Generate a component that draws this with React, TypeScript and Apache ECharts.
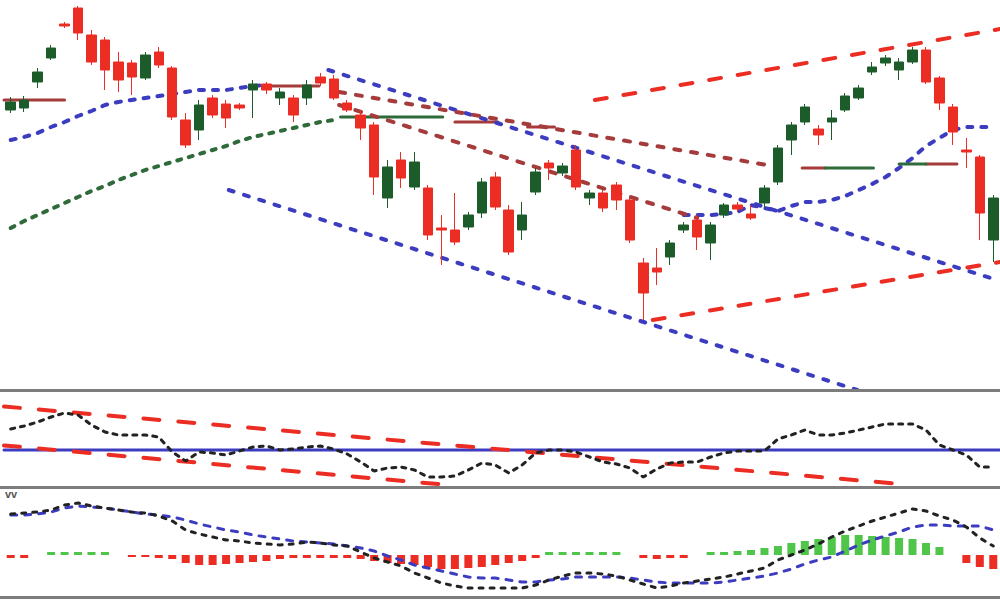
import React, { useEffect, useRef } from "react";
import * as echarts from "echarts";

// ---------- data (index-point units) ----------
const categories = Array.from({ length: 74 }, (_, i) => "D" + (i + 1));

const opens = [
  280, 282, 308, 332, 366, 382, 355, 350, 328, 327,
  312, 338, 322, 270, 260, 292, 286, 285, 300, 306,
  292, 292, 292, 313, 311, 287, 275, 265, 192, 230,
  203, 202, 162, 160, 163, 177, 213, 180, 160, 198,
  227, 217, 240, 192, 197, 205, 190, 127, 122, 133,
  160, 170, 147, 175, 185, 176, 187, 208, 250, 268,
  261, 268, 280, 292, 318, 327, 320, 328, 340, 312,
  283, 240, 233, 150,
];
const closes = [
  288, 290, 318, 342, 364, 357, 328, 320, 310, 313,
  335, 325, 273, 245, 285, 275, 272, 282, 306, 300,
  298, 275, 305, 307, 292, 280, 262, 213, 223, 212,
  228, 155, 160, 148, 175, 208, 183, 138, 175, 218,
  222, 224, 203, 197, 182, 190, 150, 97, 118, 147,
  165, 153, 165, 185, 181, 172, 202, 242, 265, 283,
  255, 272, 294, 302, 323, 332, 328, 340, 308, 287,
  258, 238, 177, 192,
];
const lows = [
  277, 278, 302, 330, 362, 350, 325, 300, 298, 295,
  310, 322, 270, 242, 250, 272, 262, 280, 272, 296,
  285, 268, 285, 304, 290, 278, 250, 195, 182, 202,
  200, 150, 125, 145, 160, 172, 180, 135, 150, 195,
  210, 214, 200, 185, 178, 180, 147, 70, 105, 125,
  157, 140, 130, 172, 178, 170, 182, 205, 235, 265,
  245, 250, 278, 290, 315, 324, 310, 326, 306, 280,
  245, 222, 150, 128,
];
const highs = [
  293, 294, 322, 345, 368, 384, 360, 353, 338, 330,
  338, 343, 324, 277, 290, 295, 290, 287, 310, 308,
  302, 295, 310, 317, 315, 290, 280, 268, 230, 238,
  238, 205, 175, 197, 178, 212, 218, 185, 188, 222,
  230, 227, 245, 200, 200, 208, 193, 132, 142, 150,
  168, 175, 168, 187, 188, 185, 205, 245, 268, 286,
  265, 280, 297, 305, 328, 335, 332, 343, 343, 314,
  286, 252, 235, 195,
];

const N = null;
const blueMA = [
  250, 253, 257, 263, 268, 274, 279, 285, 288, 290,
  292, 294, 296, 298, 300, 300, 300, 302, 304, 305,
  N, N, N, N, N, N, N, N, N, N,
  N, N, N, N, N, N, N, N, N, N,
  N, N, N, N, N, N, N, N, N, N,
  175, 175, 175, 176, 178, 185, 182, 179, 184, 188,
  188, 190, 194, 200, 206, 213, 222, 232, 244, 252,
  260, 263, 263, 263,
];
const greenMA = [
  162, 169, 175, 181, 187, 193, 199, 204, 210, 215,
  220, 224, 228, 232, 236, 240, 244, 249, 253, 256,
  259, 262, 265, 268, 270,
];

// flat segments [fromIndex, toIndex, level]
const flatRed = [
  [-0.5, 4, 290], [18.8, 22.9, 304], [33, 36.2, 268], [38.4, 40.4, 263],
  [58.8, 60.5, 222], [68, 70.3, 226],
];
const flatGreen = [[24.5, 32.1, 273], [60.5, 64.1, 222], [66, 68, 226]];

// trend lines [x0, y0, x1, y1]
const blueTrends = [[23.6, 320, 73.5, 109], [16.2, 200, 62.9, 0]];
const redChannel = [[43.4, 290, 73.5, 361], [47.7, 70, 73.5, 128]];
const brownTrends = [[24.4, 298, 56.2, 225], [24.4, 285, 51, 172]];

// oscillator panel
const oscLine = [
  58, 61, 65, 70, 74, 72, 62, 55, 52, 52,
  52, 50, 35, 26, 35, 34, 32, 36, 40, 41,
  37, 38, 40, 41, 38, 33, 25, 16, 19, 20,
  17, 10, 10, 11, 17, 24, 22, 14, 22, 34,
  37, 37, 35, 30, 25, 23, 19, 10, 18, 24,
  25, 25, 30, 34, 36, 36, 36, 48, 52, 57,
  52, 52, 54, 57, 60, 63, 63, 63, 57, 42,
  37, 32, 20, 20,
];
const oscMid = 37;
const oscTrends = [[-0.5, 80.5, 66.6, 2.5], [-0.5, 41.6, 32.1, 2.5]];

// MACD panel
const macdLine = [
  41, 42, 43, 45, 50, 52, 49, 47, 45, 43,
  42, 39, 34, 25, 21, 18, 15, 14, 12, 11,
  10, 11, 13, 12, 10, 9, 3, -3, -7, -11,
  -18, -23, -28, -31, -33, -33, -33, -33, -33, -30,
  -25, -21, -18, -18, -19, -21, -25, -29, -33, -31,
  -28, -26, -24, -22, -19, -16, -13, -5, 0, 5,
  11, 18, 24, 29, 34, 38, 42, 46, 44, 39,
  35, 28, 17, 9,
];
const signalLine = [
  40, 40, 41, 43, 47, 49, 48, 47, 45, 43,
  41, 40, 38, 35, 31, 28, 25, 23, 20, 18,
  16, 14, 13, 12, 11, 9, 7, 4, -1, -5,
  -10, -13, -16, -19, -22, -23, -23, -25, -27, -27,
  -25, -24, -22, -22, -22, -22, -23, -25, -27, -28,
  -28, -28, -28, -27, -25, -23, -21, -18, -14, -9,
  -5, -2, 4, 10, 15, 19, 23, 28, 30, 30,
  29, 29, 29, 25,
];
const histogram = [
  -3, -3, 0, 3, 3, 3, 3, 3, 0, -2,
  -2, -3, -4, -8, -10, -10, -9, -8, -7, -6,
  -4, -3, -3, -3, -3, -3, -4, -6, -8, -9,
  -10, -12, -14, -14, -13, -12, -10, -8, -6, -3,
  3, 3, 3, 3, 3, 3, 0, -3, -4, -3,
  -3, 0, 3, 3, 4, 5, 7, 9, 12, 14,
  16, 18, 20, 20, 19, 18, 17, 16, 12, 8,
  0, -8, -12, -14,
];

// ---------- styling ----------
const RED = "#ec2d24";
const GREEN = "#1c5c2b";
const BLUE = "#3c3cc0";
const BROWN = "#a53b3b";
const DKGREEN = "#2f6b3a";

function segSeries(segs: number[][], color: string, dash: any, width: number, xi: number, yi: number) {
  return segs.map((s) => ({
    type: "line",
    xAxisIndex: xi,
    yAxisIndex: yi,
    data: s.length === 3 ? [[s[0], s[2]], [s[1], s[2]]] : [[s[0], s[1]], [s[2], s[3]]],
    showSymbol: false,
    silent: true,
    z: 2,
    lineStyle: { color, width, type: dash, cap: "round" },
  }));
}

export default function App() {
  const ref = useRef<HTMLDivElement>(null);
  useEffect(() => {
    document.body.style.margin = "0";
    const chart = echarts.init(ref.current!, null, { renderer: "svg" });
    const candleData = opens.map((o, i) => [o, closes[i], lows[i], highs[i]]);
    const option: any = {
      animation: false,
      backgroundColor: "#ffffff",
      grid: [
        { left: 4, top: 0, width: 999, height: 390 },
        { left: 4, top: 392, width: 999, height: 95 },
        { left: 4, top: 490, width: 999, height: 107 },
      ],
      xAxis: [
        { type: "category", gridIndex: 0, data: categories, show: false },
        { type: "value", gridIndex: 0, min: -0.5, max: 73.5, show: false },
        { type: "category", gridIndex: 1, data: categories, show: false },
        { type: "value", gridIndex: 1, min: -0.5, max: 73.5, show: false },
        { type: "category", gridIndex: 2, data: categories, show: false },
      ],
      yAxis: [
        { type: "value", gridIndex: 0, min: 0, max: 390, show: false },
        { type: "value", gridIndex: 1, min: 0, max: 95, show: false },
        { type: "value", gridIndex: 2, min: -42, max: 65, show: false },
      ],
      graphic: [
        { type: "rect", shape: { x: 0, y: 389, width: 1000, height: 3 }, style: { fill: "#7d7d7d" }, z: 10 },
        { type: "rect", shape: { x: 0, y: 486, width: 1000, height: 3 }, style: { fill: "#7d7d7d" }, z: 10 },
        { type: "rect", shape: { x: 0, y: 596, width: 1000, height: 3 }, style: { fill: "#7d7d7d" }, z: 10 },
        { type: "text", left: 5, top: 488, style: { text: "vv", fill: "#555", font: "bold 11px sans-serif" }, z: 10 },
      ],
      series: [
        // main panel
        {
          type: "line", xAxisIndex: 0, yAxisIndex: 0, data: greenMA, showSymbol: false, z: 2,
          lineStyle: { color: DKGREEN, width: 4, type: [4, 8], cap: "round" },
        },
        {
          type: "line", xAxisIndex: 0, yAxisIndex: 0, data: blueMA, showSymbol: false, z: 2,
          lineStyle: { color: BLUE, width: 4, type: [5, 9], cap: "round" },
        },
        ...segSeries(flatRed, BROWN, "solid", 3, 1, 0),
        ...segSeries(flatGreen, DKGREEN, "solid", 3, 1, 0),
        ...segSeries(blueTrends, BLUE, [5, 11], 4, 1, 0),
        ...segSeries(redChannel, RED, [12, 17], 4, 1, 0),
        ...segSeries(brownTrends, BROWN, [6, 11], 4, 1, 0),
        {
          type: "candlestick", xAxisIndex: 0, yAxisIndex: 0, data: candleData, barWidth: 10, z: 3,
          itemStyle: { color: GREEN, color0: RED, borderColor: GREEN, borderColor0: RED, borderWidth: 1 },
        },
        // oscillator panel
        ...segSeries([[-0.5, oscMid, 73.5, oscMid]], BLUE, "solid", 3, 3, 1),
        ...segSeries(oscTrends, RED, [16, 19], 4, 3, 1),
        {
          type: "line", xAxisIndex: 2, yAxisIndex: 1, data: oscLine, showSymbol: false, z: 3,
          lineStyle: { color: "#222", width: 3, type: [4, 6], cap: "round" },
        },
        // MACD panel
        {
          type: "bar", xAxisIndex: 4, yAxisIndex: 2, barWidth: 8, z: 2,
          data: histogram.map((v) => ({ value: v, itemStyle: { color: v >= 0 ? "#4fc64a" : RED } })),
        },
        {
          type: "line", xAxisIndex: 4, yAxisIndex: 2, data: signalLine, showSymbol: false, z: 3,
          lineStyle: { color: BLUE, width: 3, type: [6, 8], cap: "round" },
        },
        {
          type: "line", xAxisIndex: 4, yAxisIndex: 2, data: macdLine, showSymbol: false, z: 3,
          lineStyle: { color: "#222", width: 3, type: [4, 7], cap: "round" },
        },
      ],
    };
    chart.setOption(option);
    return () => chart.dispose();
  }, []);
  return <div ref={ref} style={{ width: 1000, height: 600 }} />;
}
